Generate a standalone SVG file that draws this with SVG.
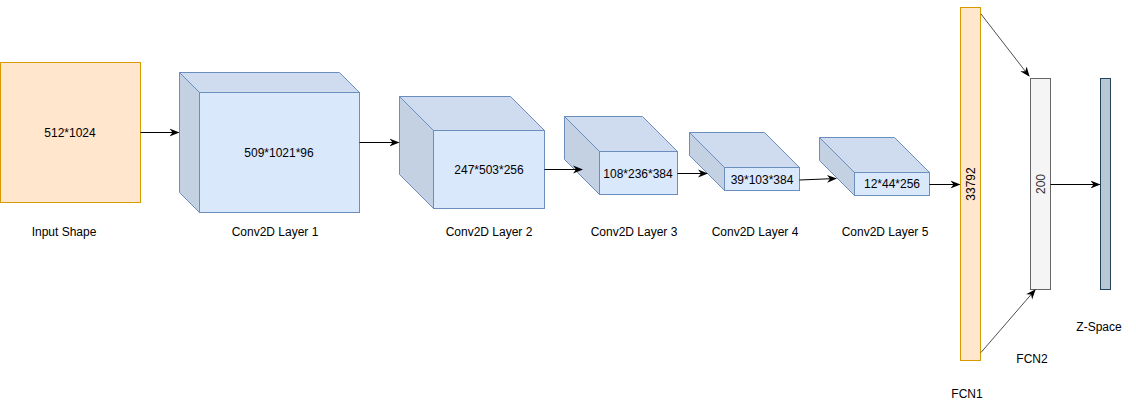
<svg xmlns="http://www.w3.org/2000/svg" width="1136" height="405" viewBox="0 0 1136 405">
<defs>
<style>
text{font-family:"Liberation Sans",Arial,Helvetica,sans-serif;font-size:12px;fill:#000;text-anchor:middle;dominant-baseline:central}
.front{fill:#dae8fc;stroke:#6c8ebf;stroke-width:1}
.top{fill:#cfdcf0;stroke:#6c8ebf;stroke-width:1}
.side{fill:#c4d1e3;stroke:#6c8ebf;stroke-width:1}
.edge{fill:none;stroke:#000;stroke-width:1}
.thin{fill:none;stroke:#000;stroke-width:0.7}
</style>
<marker id="arr" viewBox="0 0 10 10" refX="9" refY="5" markerWidth="10" markerHeight="10" markerUnits="userSpaceOnUse" orient="auto">
<path d="M0,1 L10,5 L0,9 L3,5 Z" fill="#000"/>
</marker>
</defs>
<rect width="1136" height="405" fill="#fff"/>

<g id="input">
<rect x="0.5" y="62.5" width="140" height="140" fill="#ffe6cc" stroke="#d79b00"/>
<text x="70" y="133">512*1024</text>
<text x="64" y="232">Input Shape</text>
</g>

<g id="conv1">
<polygon class="top" points="179.5,72.5 339.5,72.5 359.5,92.5 199.5,92.5"/>
<polygon class="side" points="179.5,72.5 199.5,92.5 199.5,212.5 179.5,192.5"/>
<rect class="front" x="199.5" y="92.5" width="160" height="120"/>
<text x="279" y="153">509*1021*96</text>
<text x="275" y="232">Conv2D Layer 1</text>
</g>

<g id="conv2">
<polygon class="top" points="399.5,96.5 510.5,96.5 544.5,130.5 433.5,130.5"/>
<polygon class="side" points="399.5,96.5 433.5,130.5 433.5,208.5 399.5,174.5"/>
<rect class="front" x="433.5" y="130.5" width="111" height="78"/>
<text x="489" y="170">247*503*256</text>
<text x="489" y="232">Conv2D Layer 2</text>
</g>

<g id="conv3">
<polygon class="top" points="564.5,116.5 642.5,116.5 677.5,151.5 599.5,151.5"/>
<polygon class="side" points="564.5,116.5 599.5,151.5 599.5,194.5 564.5,159.5"/>
<rect class="front" x="599.5" y="151.5" width="78" height="43"/>
<text x="638" y="173.5">108*236*384</text>
<text x="634" y="232">Conv2D Layer 3</text>
</g>

<g id="conv4">
<polygon class="top" points="689.5,132.5 764.5,132.5 799.5,167.5 724.5,167.5"/>
<polygon class="side" points="689.5,132.5 724.5,167.5 724.5,190.5 689.5,155.5"/>
<rect class="front" x="724.5" y="167.5" width="75" height="23"/>
<text x="762" y="179.5">39*103*384</text>
<text x="755" y="232">Conv2D Layer 4</text>
</g>

<g id="conv5">
<polygon class="top" points="819.5,137.5 894.5,137.5 929.5,172.5 854.5,172.5"/>
<polygon class="side" points="819.5,137.5 854.5,172.5 854.5,195.5 819.5,160.5"/>
<rect class="front" x="854.5" y="172.5" width="75" height="23"/>
<text x="892" y="184">12*44*256</text>
<text x="885" y="232">Conv2D Layer 5</text>
</g>

<g id="fcn1">
<rect x="960.5" y="7.5" width="20" height="353" fill="#ffe6cc" stroke="#d79b00"/>
<text transform="translate(970.5,184) rotate(-90)">33792</text>
<text x="967" y="394">FCN1</text>
</g>

<g id="fcn2">
<rect x="1030.5" y="78.5" width="20" height="211" fill="#f5f5f5" stroke="#666666"/>
<text transform="translate(1040.5,184) rotate(-90)" style="fill:#333333">200</text>
<text x="1032" y="359">FCN2</text>
</g>

<g id="zspace">
<rect x="1100.5" y="78.5" width="10" height="211" fill="#bac8d3" stroke="#23445d"/>
<text x="1099" y="327">Z-Space</text>
</g>

<g id="connectors">
<line class="edge" x1="140.5" y1="132.5" x2="178.5" y2="132.5" marker-end="url(#arr)"/>
<line class="edge" x1="359.5" y1="142.5" x2="398.5" y2="142.5" marker-end="url(#arr)"/>
<line class="edge" x1="544.5" y1="169.5" x2="582" y2="169.5" marker-end="url(#arr)"/>
<line class="edge" x1="677.5" y1="173.5" x2="707" y2="173.5" marker-end="url(#arr)"/>
<line class="edge" x1="799.5" y1="180" x2="836" y2="178.5" marker-end="url(#arr)"/>
<line class="edge" x1="929.5" y1="184.5" x2="959.5" y2="184.5" marker-end="url(#arr)"/>
<line class="thin" x1="981" y1="14" x2="1029" y2="76" marker-end="url(#arr)"/>
<line class="thin" x1="981" y1="352.5" x2="1035" y2="290" marker-end="url(#arr)"/>
<line class="edge" x1="1050.5" y1="184.5" x2="1099.5" y2="184.5" marker-end="url(#arr)"/>
</g>
</svg>
